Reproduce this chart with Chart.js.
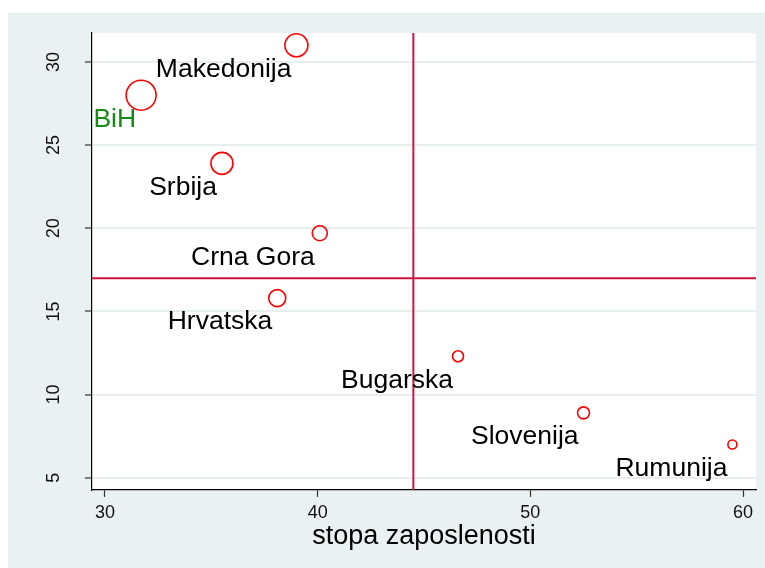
<!DOCTYPE html>
<html>
<head>
<meta charset="utf-8">
<script src="https://cdn.jsdelivr.net/npm/chart.js@4"></script>
<style>
  html, body { margin: 0; padding: 0; background: #ffffff; }
  #wrap { width: 765px; height: 568px; }
</style>
</head>
<body>
<div id="wrap"><canvas id="scatterChart" width="765" height="568"></canvas></div>
<script>
// Data
const countries = ['BiH', 'Makedonija', 'Srbija', 'Crna Gora', 'Hrvatska', 'Bugarska', 'Slovenija', 'Rumunija'];
const employmentRate = [31.7, 39.0, 35.5, 40.1, 38.1, 46.6, 52.5, 59.5];
const unemploymentRate = [28.0, 31.0, 23.9, 19.7, 15.8, 12.3, 8.9, 7.0];
const bubbleRadius = [15, 11.5, 11, 7.5, 8.5, 5.5, 6, 4.5];
const labelColors = ['#158a15', '#000', '#000', '#000', '#000', '#000', '#000', '#000'];

const xTicks = [30, 40, 50, 60];
const yTicks = [5, 10, 15, 20, 25, 30];
const xTitle = 'stopa zaposlenosti';

// reference lines (means)
const refX = 44.5;
const refY = 17.0;

const FONT = '"Liberation Sans", Arial, Helvetica, sans-serif';
const REF_COLOR = '#c8163f';

const points = countries.map((c, i) => ({ x: employmentRate[i], y: unemploymentRate[i], r: bubbleRadius[i] }));

// Background, reference lines, marker labels, rotated y labels and x title
const stataPlugin = {
    id: 'stataLook',
    beforeDraw(chart) {
        const c = chart.ctx;
        const a = chart.chartArea;
        c.save();
        c.fillStyle = '#e9f1f3';
        c.fillRect(8, 13, chart.width - 8, chart.height - 13);
        c.fillStyle = '#ffffff';
        c.fillRect(a.left, a.top, a.right - a.left, a.bottom - a.top);
        c.restore();
    },
    beforeDatasetsDraw(chart) {
        const c = chart.ctx;
        const a = chart.chartArea;
        const xs = chart.scales.x, ys = chart.scales.y;
        const px = xs.getPixelForValue(refX);
        const py = ys.getPixelForValue(refY);
        c.save();
        c.strokeStyle = REF_COLOR;
        c.lineWidth = 2;
        c.beginPath();
        c.moveTo(px, a.top);
        c.lineTo(px, a.bottom);
        c.moveTo(a.left, py);
        c.lineTo(a.right, py);
        c.stroke();
        c.restore();
    },
    afterDatasetsDraw(chart) {
        const c = chart.ctx;
        const meta = chart.getDatasetMeta(0);
        c.save();
        c.font = '26.5px ' + FONT;
        c.textAlign = 'right';
        c.textBaseline = 'middle';
        meta.data.forEach((el, i) => {
            c.fillStyle = labelColors[i];
            c.fillText(countries[i], el.x - 5, el.y + 24);
        });

        // y tick labels, rotated like Stata
        const ys = chart.scales.y;
        c.font = '18px ' + FONT;
        c.fillStyle = '#111';
        c.textAlign = 'center';
        c.textBaseline = 'middle';
        yTicks.forEach(v => {
            c.save();
            c.translate(54, ys.getPixelForValue(v));
            c.rotate(-Math.PI / 2);
            c.fillText(String(v), 0, 0);
            c.restore();
        });

        // x axis title
        const a = chart.chartArea;
        c.font = '27px ' + FONT;
        c.fillStyle = '#000';
        c.textAlign = 'center';
        c.fillText(xTitle, (a.left + a.right) / 2, 537);
        c.restore();
    }
};

const ctx = document.getElementById('scatterChart').getContext('2d');
new Chart(ctx, {
    type: 'bubble',
    data: {
        datasets: [{
            label: 'zemlje',
            data: points,
            backgroundColor: 'rgba(0,0,0,0)',
            borderColor: '#ff0000',
            borderWidth: 1.6,
            hoverRadius: 0,
            clip: false
        }]
    },
    options: {
        responsive: false,
        animation: false,
        events: [],
        layout: { autoPadding: false, padding: { top: 33, right: 9, left: 0, bottom: 0 } },
        plugins: {
            legend: { display: false },
            tooltip: { enabled: false }
        },
        scales: {
            x: {
                type: 'linear',
                min: 29.39,
                max: 60.61,
                afterBuildTicks: s => { s.ticks = xTicks.map(v => ({ value: v })); },
                afterFit: s => { s.height = 78; s.paddingLeft = 0; s.paddingRight = 0; },
                border: { display: true, color: '#000', width: 1.2 },
                grid: { drawOnChartArea: false, drawTicks: true, tickLength: 7, tickColor: '#333', tickWidth: 1.2 },
                ticks: {
                    font: { family: FONT, size: 18 },
                    color: '#111',
                    padding: 5,
                    maxRotation: 0
                }
            },
            y: {
                type: 'linear',
                min: 4.26,
                max: 31.74,
                afterBuildTicks: s => { s.ticks = yTicks.map(v => ({ value: v })); },
                afterFit: s => { s.width = 92; s.paddingTop = 0; s.paddingBottom = 0; },
                border: { display: true, color: '#000', width: 1.2 },
                grid: { color: '#e6eef0', lineWidth: 2, drawTicks: true, tickLength: 7, tickColor: '#333', tickWidth: 1.2 },
                ticks: {
                    font: { family: FONT, size: 18 },
                    color: 'rgba(0,0,0,0)'
                }
            }
        }
    },
    plugins: [stataPlugin]
});
</script>
</body>
</html>
